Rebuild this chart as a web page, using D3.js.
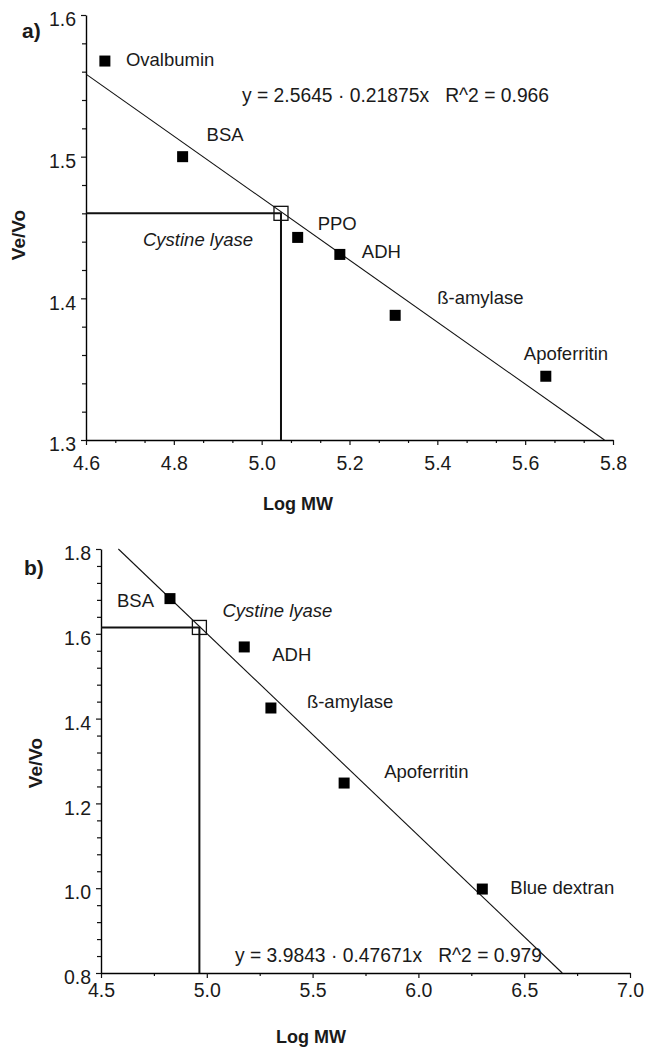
<!DOCTYPE html>
<html>
<head>
<meta charset="utf-8">
<title>Ve/Vo vs Log MW</title>
<script src="https://cdn.jsdelivr.net/npm/d3@7"></script>
<style>
  body { margin: 0; background: #fff; }
  text { font-family: "Liberation Sans", Arial, sans-serif; fill: #1a1a1a; white-space: pre; }
</style>
</head>
<body>
<svg width="645" height="1047"></svg>
<script>
// ---- panel a) data
const namesA = ["Ovalbumin", "BSA", "PPO", "ADH", "ß-amylase", "Apoferritin"];
const logMwA = [4.643, 4.82, 5.082, 5.178, 5.304, 5.647];
const veVoA = [1.5675, 1.5, 1.443, 1.431, 1.388, 1.345];
const fitA = [2.5645, -0.21875];          // intercept, slope
const unknownA = [5.044, 1.46];            // Cystine lyase (log MW, Ve/Vo)
const xTicksA = [4.6, 4.8, 5.0, 5.2, 5.4, 5.6, 5.8];
const yTicksA = [1.3, 1.4, 1.5, 1.6];
const equationA = "y = 2.5645 · 0.21875x   R^2 = 0.966";

// ---- panel b) data
const namesB = ["BSA", "ADH", "ß-amylase", "Apoferritin", "Blue dextran"];
const logMwB = [4.826, 5.177, 5.303, 5.649, 6.302];
const veVoB = [1.683, 1.569, 1.425, 1.248, 0.998];
const fitB = [3.9843, -0.47671];
const unknownB = [4.965, 1.615];
const xTicksB = [4.5, 5.0, 5.5, 6.0, 6.5, 7.0];
const yTicksB = [0.8, 1.0, 1.2, 1.4, 1.6, 1.8];
const equationB = "y = 3.9843 · 0.47671x   R^2 = 0.979";

const svg = d3.select("svg");

function minorTicks(major, n) {
  const out = [];
  for (let i = 0; i < major.length - 1; i++) {
    const step = (major[i + 1] - major[i]) / n;
    for (let k = 1; k < n; k++) out.push(+(major[i] + k * step).toFixed(4));
  }
  return out;
}

function drawPanel(p) {
  const g = svg.append("g");
  const x = d3.scaleLinear().domain(d3.extent(p.xTicks)).range([p.left, p.right]);
  const y = d3.scaleLinear().domain(d3.extent(p.yTicks)).range([p.bottom, p.top]);
  const fmt = d3.format(".1f");

  // minor ticks
  g.append("g")
    .attr("transform", `translate(0,${p.bottom})`)
    .call(d3.axisBottom(x).tickValues(minorTicks(p.xTicks, p.xMinor)).tickSize(3).tickFormat(""))
    .call(a => a.select(".domain").remove());
  g.append("g")
    .attr("transform", `translate(${p.left},0)`)
    .call(d3.axisLeft(y).tickValues(minorTicks(p.yTicks, p.yMinor)).tickSize(4).tickFormat(""))
    .call(a => a.select(".domain").remove());

  // major axes
  const xa = g.append("g")
    .attr("transform", `translate(0,${p.bottom})`)
    .call(d3.axisBottom(x).tickValues(p.xTicks).tickSize(5).tickSizeOuter(0).tickPadding(p.xPad).tickFormat(fmt));
  const ya = g.append("g")
    .attr("transform", `translate(${p.left},0)`)
    .call(d3.axisLeft(y).tickValues(p.yTicks).tickSize(5).tickSizeOuter(0).tickPadding(5).tickFormat(fmt));
  [xa, ya].forEach(a => {
    a.attr("font-family", null).attr("font-size", null);
    a.selectAll("text").style("font-size", "19.5px");
    a.select(".domain").attr("stroke-width", 1.4);
  });
  ya.selectAll("text").attr("dy", "0.55em");
  g.selectAll(".tick line").attr("stroke", "#111").attr("stroke-width", 1.2);

  // regression line, clipped to the plot box
  const [a0, b0] = p.fit;
  const [xmin, xmax] = x.domain(), [ymin, ymax] = y.domain();
  const xs = Math.max(xmin, (ymax - a0) / b0);
  const xe = Math.min(xmax, (ymin - a0) / b0);
  g.append("line")
    .attr("x1", x(xs)).attr("y1", y(a0 + b0 * xs))
    .attr("x2", x(xe)).attr("y2", y(a0 + b0 * xe))
    .attr("stroke", "#111").attr("stroke-width", 1.1);

  // guide lines to the unknown
  const [ux, uy] = p.unknown;
  g.append("path")
    .attr("d", `M${x(xmin)},${y(uy)}H${x(ux)}V${y(ymin)}`)
    .attr("fill", "none").attr("stroke", "#111").attr("stroke-width", 2);
  g.append("rect")
    .attr("x", x(ux) - 7).attr("y", y(uy) - 7)
    .attr("width", 14).attr("height", 14)
    .attr("fill", "none").attr("stroke", "#111").attr("stroke-width", 1.3);
  g.append("text")
    .attr("x", x(ux) + p.unknownLabel[0]).attr("y", y(uy) + p.unknownLabel[1])
    .style("font-size", "18.5px").style("font-style", "italic")
    .text("Cystine lyase");

  // standards
  g.selectAll("rect.pt")
    .data(p.names)
    .join("rect")
    .attr("class", "pt")
    .attr("x", (d, i) => x(p.logMw[i]) - 5.5)
    .attr("y", (d, i) => y(p.veVo[i]) - 5.5)
    .attr("width", 11).attr("height", 11)
    .attr("fill", "#000");
  g.selectAll("text.lbl")
    .data(p.names)
    .join("text")
    .attr("class", "lbl")
    .attr("x", (d, i) => x(p.logMw[i]) + p.labelOffsets[i][0])
    .attr("y", (d, i) => y(p.veVo[i]) + p.labelOffsets[i][1])
    .style("font-size", "18.5px")
    .text(d => d);

  // equation
  g.append("text")
    .attr("x", p.left + p.eqPos[0]).attr("y", p.top + p.eqPos[1])
    .style("font-size", "19.3px")
    .text(p.equation);

  // titles
  g.append("text")
    .attr("x", p.xTitle[0]).attr("y", p.xTitle[1])
    .attr("text-anchor", "middle")
    .style("font-size", "18px").style("font-weight", "bold")
    .text("Log MW");
  g.append("text")
    .attr("transform", `translate(${p.yTitle[0]},${p.yTitle[1]}) rotate(-90)`)
    .attr("text-anchor", "middle")
    .style("font-size", "19px").style("font-weight", "bold")
    .text("Ve/Vo");
  g.append("text")
    .attr("x", p.letterPos[0]).attr("y", p.letterPos[1])
    .style("font-size", "21px").style("font-weight", "bold")
    .text(p.letter);
}

drawPanel({
  letter: "a)", letterPos: [22, 38],
  left: 86, right: 613, top: 15, bottom: 440,
  xTicks: xTicksA, yTicks: yTicksA, xMinor: 3, yMinor: 5, xPad: 11,
  names: namesA, logMw: logMwA, veVo: veVoA, fit: fitA, unknown: unknownA,
  labelOffsets: [[21, 5], [24, -16], [20, -7], [22, 4], [42, -11], [-22, -16]],
  unknownLabel: [-138, 33],
  equation: equationA, eqPos: [156, 87],
  xTitle: [298, 510], yTitle: [25, 235]
});

drawPanel({
  letter: "b)", letterPos: [24, 575],
  left: 101, right: 630, top: 549, bottom: 973,
  xTicks: xTicksB, yTicks: yTicksB, xMinor: 2, yMinor: 5, xPad: 5,
  names: namesB, logMw: logMwB, veVo: veVoB, fit: fitB, unknown: unknownB,
  labelOffsets: [[-53, 8], [28, 14], [36, 0], [40, -5], [28, 5]],
  unknownLabel: [23, -10],
  equation: equationB, eqPos: [134, 413],
  xTitle: [311, 1043], yTitle: [42, 763]
});
</script>
</body>
</html>
